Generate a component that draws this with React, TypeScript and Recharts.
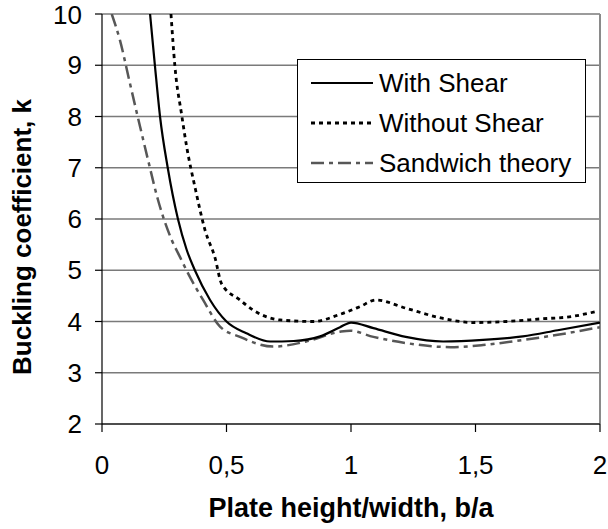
import React from 'react'
import {
  LineChart,
  Line,
  XAxis,
  YAxis,
  CartesianGrid,
  Legend,
  ReferenceLine,
} from 'recharts'

// === data ===

const withShearX = [0.193, 0.213, 0.233, 0.264, 0.305, 0.34, 0.373, 0.434, 0.5, 0.58, 0.675, 0.77, 0.876, 0.956, 1.0, 1.09, 1.22, 1.37, 1.53, 1.69, 1.83, 2.0]
const withShearK = [10, 8.97, 8.0, 7.0, 6.0, 5.4, 5.0, 4.42, 4.0, 3.77, 3.61, 3.62, 3.71, 3.89, 3.98, 3.87, 3.7, 3.61, 3.64, 3.71, 3.83, 3.98]

const withoutShearX = [0.277, 0.293, 0.32, 0.34, 0.373, 0.414, 0.454, 0.48, 0.554, 0.608, 0.715, 0.848, 0.956, 1.036, 1.1, 1.22, 1.36, 1.49, 1.625, 1.76, 1.89, 1.98]
const withoutShearK = [10, 8.97, 8.03, 7.41, 6.63, 5.78, 5.24, 4.74, 4.42, 4.22, 4.03, 4.0, 4.14, 4.29, 4.42, 4.26, 4.07, 3.98, 4.0, 4.05, 4.1, 4.19]

const sandwichX = [0.039, 0.072, 0.112, 0.153, 0.185, 0.225, 0.28, 0.313, 0.353, 0.406, 0.474, 0.554, 0.687, 0.82, 0.956, 0.996, 1.09, 1.22, 1.4, 1.53, 1.69, 1.83, 2.0]
const sandwichK = [10, 9.49, 8.65, 7.8, 7.15, 6.37, 5.59, 5.26, 4.87, 4.42, 3.9, 3.7, 3.51, 3.61, 3.8, 3.82, 3.7, 3.58, 3.5, 3.54, 3.64, 3.74, 3.89]

const xTicks = [0, 0.5, 1, 1.5, 2]
const yTicks = [2, 3, 4, 5, 6, 7, 8, 9, 10]

const seriesNames = ['With Shear', 'Without Shear', 'Sandwich theory']

const toRows = (xs: number[], ks: number[]) => xs.map((x, i) => ({ x, k: ks[i] }))

const FONT = '"Liberation Sans", Arial, sans-serif'

const styles = [
  { stroke: '#000000', width: 2.2, dash: undefined as string | undefined },
  { stroke: '#000000', width: 2.8, dash: '4 4' },
  { stroke: '#575757', width: 2.5, dash: '13 5 4 5' },
]

function LegendBox() {
  return (
    <div
      style={{
        width: '100%',
        height: '100%',
        boxSizing: 'border-box',
        border: '1px solid #000',
        background: '#fff',
        fontFamily: FONT,
        fontSize: 26,
        color: '#000',
        paddingTop: 3,
      }}
    >
      {seriesNames.map((name, i) => (
        <div key={name} style={{ height: 40, display: 'flex', alignItems: 'center' }}>
          <svg width={80} height={10} style={{ flex: 'none' }}>
            <line
              x1={13}
              x2={75}
              y1={5}
              y2={5}
              stroke={styles[i].stroke}
              strokeWidth={styles[i].width}
              strokeDasharray={styles[i].dash}
            />
          </svg>
          <span style={{ marginLeft: 1, whiteSpace: 'nowrap' }}>{name}</span>
        </div>
      ))}
    </div>
  )
}

// title sits a bit below the plot's middle, like the original
const YTitle = (props: any) => {
  const { viewBox } = props
  const cx = viewBox.x + 22
  const cy = viewBox.y + viewBox.height / 2 + 18
  return (
    <text
      x={cx}
      y={cy}
      transform={`rotate(-90, ${cx}, ${cy})`}
      textAnchor="middle"
      dominantBaseline="central"
      fontFamily={FONT}
      fontSize={26}
      fontWeight="bold"
      fill="#000"
    >
      Buckling coefficient, k
    </text>
  )
}

const XTitle = (props: any) => {
  const { viewBox } = props
  return (
    <text
      x={viewBox.x + viewBox.width / 2}
      y={517}
      textAnchor="middle"
      fontFamily={FONT}
      fontSize={27}
      fontWeight="bold"
      fill="#000"
    >
      Plate height/width, b/a
    </text>
  )
}

export default function App() {
  return (
    <div style={{ position: 'absolute', left: 0, top: 0, background: '#fff' }}>
      <LineChart width={608} height={529} margin={{ top: 14, right: 8, left: 0, bottom: 0 }}>
        <CartesianGrid vertical={false} stroke="#7a7a7a" strokeWidth={1.5} />
        <ReferenceLine x={2} stroke="#8a8a8a" strokeWidth={2} />
        <XAxis
          type="number"
          dataKey="x"
          domain={[0, 2]}
          ticks={xTicks}
          tickFormatter={(v: number) => String(v).replace('.', ',')}
          allowDataOverflow
          height={105}
          tickSize={8}
          tickMargin={24}
          axisLine={{ stroke: '#000', strokeWidth: 1.2 }}
          tickLine={{ stroke: '#000', strokeWidth: 1.2 }}
          tick={{ fill: '#000', fontSize: 26, fontFamily: FONT }}
          label={<XTitle />}
        />
        <YAxis
          type="number"
          domain={[2, 10]}
          ticks={yTicks}
          allowDataOverflow
          width={102}
          tickSize={7}
          tickMargin={13}
          axisLine={{ stroke: '#000', strokeWidth: 1.2 }}
          tickLine={{ stroke: '#000', strokeWidth: 1.2 }}
          tick={{ fill: '#000', fontSize: 26, fontFamily: FONT }}
          label={<YTitle />}
        />
        <Legend
          layout="horizontal"
          verticalAlign="middle"
          align="center"
          content={<LegendBox />}
          wrapperStyle={{ left: 297, top: 59, width: 289, height: 124, bottom: 'auto', right: 'auto' }}
        />
        <Line
          data={toRows(sandwichX, sandwichK)}
          dataKey="k"
          name={seriesNames[2]}
          type="monotone"
          stroke={styles[2].stroke}
          strokeWidth={styles[2].width}
          strokeDasharray={styles[2].dash}
          dot={false}
          isAnimationActive={false}
        />
        <Line
          data={toRows(withoutShearX, withoutShearK)}
          dataKey="k"
          name={seriesNames[1]}
          type="monotone"
          stroke={styles[1].stroke}
          strokeWidth={styles[1].width}
          strokeDasharray={styles[1].dash}
          dot={false}
          isAnimationActive={false}
        />
        <Line
          data={toRows(withShearX, withShearK)}
          dataKey="k"
          name={seriesNames[0]}
          type="monotone"
          stroke={styles[0].stroke}
          strokeWidth={styles[0].width}
          dot={false}
          isAnimationActive={false}
        />
      </LineChart>
    </div>
  )
}
